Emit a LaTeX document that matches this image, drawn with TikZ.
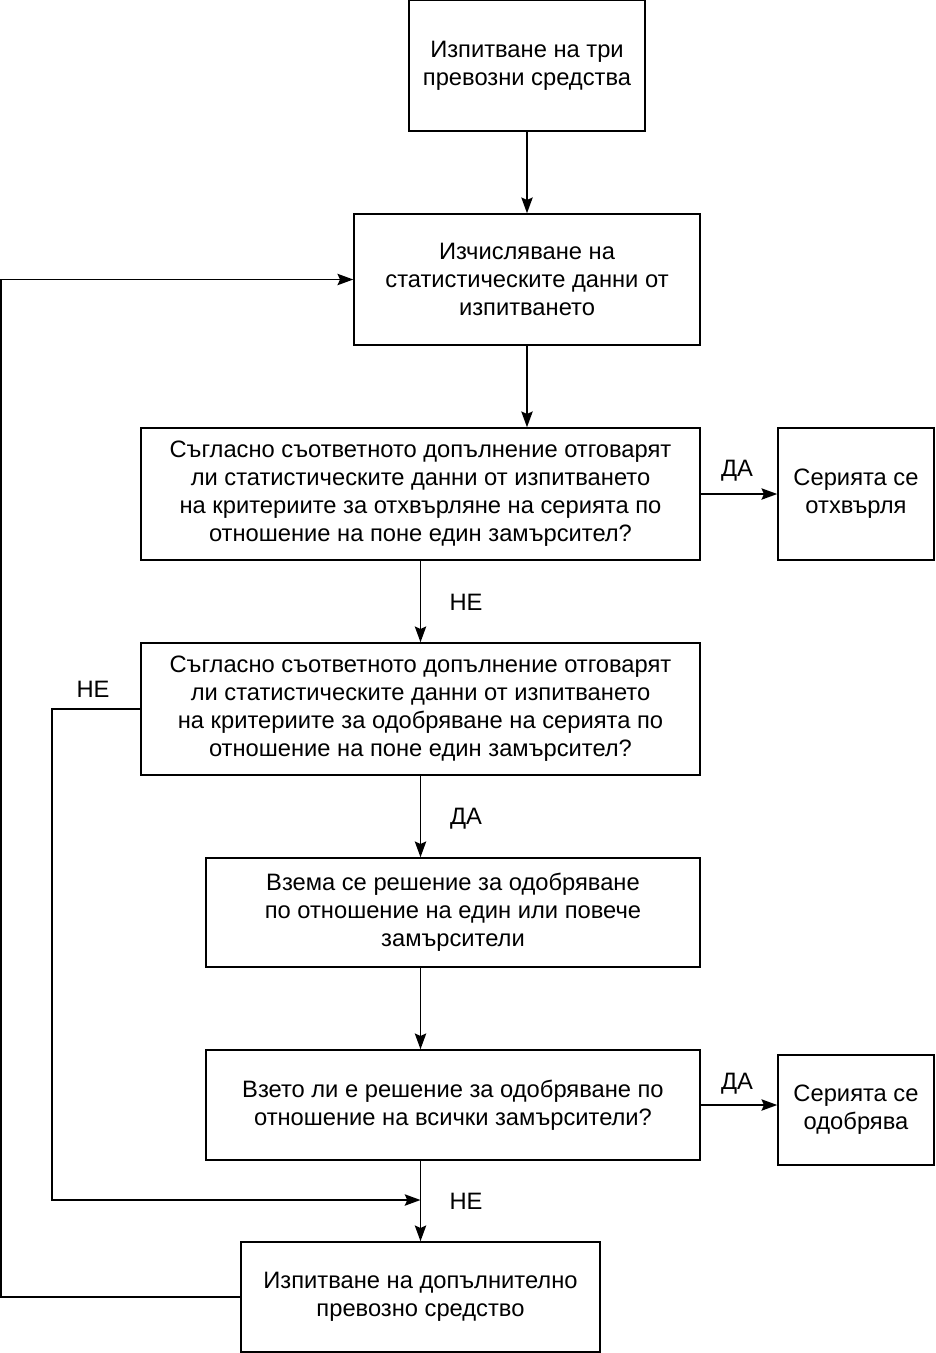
\documentclass[tikz,border=0pt]{standalone}
\usepackage{fontspec}
\setmainfont{Liberation Sans}
\usetikzlibrary{arrows.meta,calc}

\begin{document}
\begin{tikzpicture}[x=0.02cm, y=-0.02cm, >={Stealth[length=9pt,width=6.5pt,inset=1.5pt]},
    box/.style={draw, line width=0.9pt, align=center, inner sep=0pt,
        font=\fontsize{13.5}{16}\selectfont},
    lbl/.style={font=\fontsize{13.5}{16}\selectfont},
    arr/.style={->, line width=0.9pt}]
    \useasboundingbox (0,0) rectangle (936,1353);

    \node[box, minimum width=4.72cm, minimum height=2.62cm] (trials) at (527,65.5)
        {Изпитване на три\\превозни средства};
    \node[box, minimum width=6.92cm, minimum height=2.62cm] (stats) at (527,279.5)
        {Изчисляване на\\статистическите данни от\\изпитването};
    \node[box, minimum width=11.18cm, minimum height=2.64cm] (rejectq) at (420.5,494)
        {Съгласно съответното допълнение отговарят\\ли статистическите данни от изпитването\\на критериите за отхвърляне на серията по\\отношение на поне един замърсител?};
    \node[box, minimum width=3.12cm, minimum height=2.64cm] (rejected) at (856,494)
        {Серията се\\отхвърля};
    \node[box, minimum width=11.18cm, minimum height=2.64cm] (approveq) at (420.5,709)
        {Съгласно съответното допълнение отговарят\\ли статистическите данни от изпитването\\на критериите за одобряване на серията по\\отношение на поне един замърсител?};
    \node[box, minimum width=9.88cm, minimum height=2.18cm] (decide) at (453,912.5)
        {Взема се решение за одобряване\\по отношение на един или повече\\замърсители};
    \node[box, minimum width=9.88cm, minimum height=2.2cm] (allq) at (453,1105)
        {Взето ли е решение за одобряване по\\отношение на всички замърсители?};
    \node[box, minimum width=3.12cm, minimum height=2.2cm] (approved) at (856,1110)
        {Серията се\\одобрява};
    \node[box, minimum width=7.18cm, minimum height=2.2cm] (extra) at (420.5,1297)
        {Изпитване на допълнително\\превозно средство};

    % main flow
    \draw[arr] (trials.south) -- (stats.north);
    \draw[arr] (stats.south) -- (stats.south |- rejectq.north);
    \draw[arr] (rejectq.east) -- (rejectq.east -| rejected.west);
    \draw[arr] (rejectq.south) -- (approveq.north);
    \draw[arr] (approveq.south) -- (approveq.south |- decide.north);
    \draw[arr] (decide.south -| approveq.south) -- (allq.north -| approveq.south);
    \draw[arr] (allq.east) -- (allq.east -| approved.west);
    \draw[arr] (allq.south -| extra.north) -- (extra.north);

    % loops
    \coordinate (merge) at (420.5,1200);
    \draw[arr] (approveq.west) -- ++(-88,0) |- (merge);
    \draw[arr] (extra.west) -- ++(-239,0) |- (stats.west);

    \node[lbl] at (737,471) {ДА};
    \node[lbl] at (466,602) {НЕ};
    \node[lbl] at (93,689) {НЕ};
    \node[lbl] at (466,819) {ДА};
    \node[lbl] at (737,1084) {ДА};
    \node[lbl] at (466,1201) {НЕ};
\end{tikzpicture}
\end{document}
